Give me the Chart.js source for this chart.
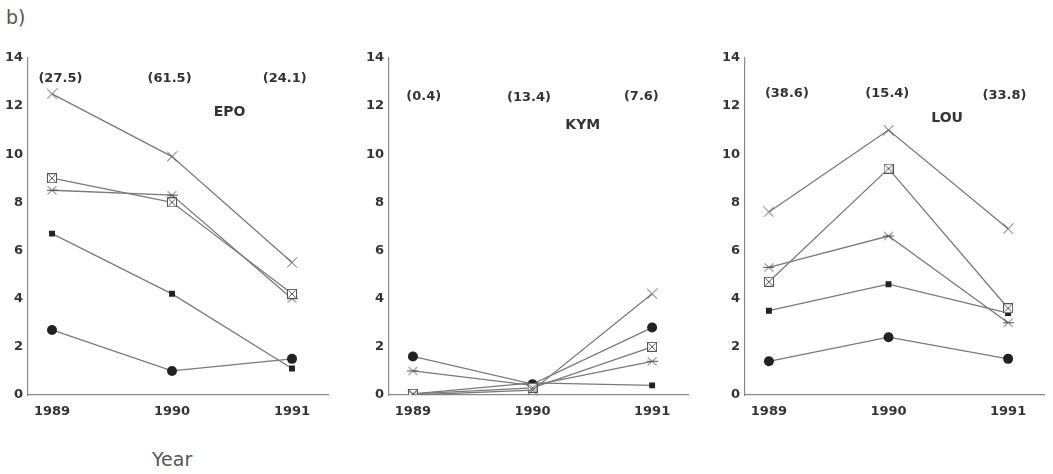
<!DOCTYPE html>
<html lang="en">
<head>
<meta charset="UTF-8">
<title>b) Year panels</title>
<script src="https://cdn.jsdelivr.net/npm/chart.js"></script>
<style>
  body { margin: 0; background: #fff; }
  #page { position: relative; width: 1053px; height: 474px; overflow: hidden; font-family: "DejaVu Sans", sans-serif; color: #555; }
  .panel { position: absolute; top: 45px; height: 375px; }
  #tag { position: absolute; left: 6px; top: 6px; font-size: 19px; }
  #year { position: absolute; left: 152px; top: 448px; font-size: 19px; }
</style>
</head>
<body>
<div id="page">
  <div id="tag">b)</div>
  <div class="panel" style="left:0px;width:340px"><canvas id="epo"></canvas></div>
  <div class="panel" style="left:361px;width:338px"><canvas id="kym"></canvas></div>
  <div class="panel" style="left:717px;width:336px"><canvas id="lou"></canvas></div>
  <div id="year">Year</div>
</div>
<script>
// data
const years = [1989, 1990, 1991];

const epoCircle = [2.7, 1.0, 1.5];
const epoSquare = [6.7, 4.2, 1.1];
const epoStar   = [8.5, 8.3, 4.0];
const epoBoxed  = [9.0, 8.0, 4.2];
const epoCross  = [12.5, 9.9, 5.5];
const epoTotals = ['(27.5)', '(61.5)', '(24.1)'];

const kymCircle = [1.6, 0.45, 2.8];
const kymSquare = [0.05, 0.5, 0.4];
const kymStar   = [1.0, 0.4, 1.4];
const kymBoxed  = [0.05, 0.3, 2.0];
const kymCross  = [0.0, 0.2, 4.2];
const kymTotals = ['(0.4)', '(13.4)', '(7.6)'];

const louCircle = [1.4, 2.4, 1.5];
const louSquare = [3.5, 4.6, 3.4];
const louStar   = [5.3, 6.6, 3.0];
const louBoxed  = [4.7, 9.4, 3.6];
const louCross  = [7.6, 11.0, 6.9];
const louTotals = ['(38.6)', '(15.4)', '(33.8)'];

const yTicks = [0, 2, 4, 6, 8, 10, 12, 14];

// marker images
function marker(size, draw) {
    const c = document.createElement('canvas');
    c.width = size; c.height = size;
    const g = c.getContext('2d');
    g.strokeStyle = '#555';
    g.lineWidth = 1;
    draw(g, size);
    return c;
}
const crossImg = marker(11, (g, s) => {
    g.beginPath();
    g.moveTo(0.5, 0.5); g.lineTo(s - 0.5, s - 0.5);
    g.moveTo(s - 0.5, 0.5); g.lineTo(0.5, s - 0.5);
    g.stroke();
});
const starImg = marker(11, (g, s) => {
    g.beginPath();
    g.moveTo(1, 1.5); g.lineTo(s - 1, s - 1.5);
    g.moveTo(s - 1, 1.5); g.lineTo(1, s - 1.5);
    g.moveTo(0, s / 2); g.lineTo(s, s / 2);
    g.stroke();
});
const boxedImg = marker(10, (g, s) => {
    g.fillStyle = '#fff';
    g.fillRect(0, 0, s, s);
    g.strokeRect(0.5, 0.5, s - 1, s - 1);
    g.beginPath();
    g.moveTo(1.5, 1.5); g.lineTo(s - 1.5, s - 1.5);
    g.moveTo(s - 1.5, 1.5); g.lineTo(1.5, s - 1.5);
    g.stroke();
});

function pts(vals) {
    return years.map((y, i) => ({ x: y, y: vals[i] }));
}

function line(vals, style, radius) {
    return {
        data: pts(vals),
        borderColor: '#7a7a7a',
        borderWidth: 1.3,
        pointStyle: style,
        pointRadius: radius,
        pointBackgroundColor: '#222',
        pointBorderColor: '#222',
        pointBorderWidth: 0,
        tension: 0
    };
}

// text drawn at value positions
const notes = {
    id: 'notes',
    afterDatasetsDraw(chart, args, opts) {
        const ctx = chart.ctx;
        const xs = chart.scales.x, ys = chart.scales.y;
        ctx.save();
        ctx.fillStyle = '#333';
        ctx.textAlign = 'center';
        ctx.textBaseline = 'middle';
        ctx.font = 'bold 13px "DejaVu Sans"';
        opts.totals.forEach((t, i) => {
            ctx.fillText(t, xs.getPixelForValue(opts.totalX[i]), ys.getPixelForValue(opts.totalY[i]));
        });
        ctx.font = 'bold 14px "DejaVu Sans"';
        ctx.fillText(opts.title, xs.getPixelForValue(opts.titleX), ys.getPixelForValue(opts.titleY));
        ctx.restore();
    }
};

function makeChart(id, sets, totals, title, pos) {
    new Chart(document.getElementById(id), {
        type: 'line',
        data: {
            datasets: [
                line(sets[4], crossImg, 5),
                line(sets[3], boxedImg, 5),
                line(sets[2], starImg, 5),
                line(sets[1], 'rect', 4.2),
                line(sets[0], 'circle', 5)
            ]
        },
        options: {
            responsive: true,
            maintainAspectRatio: false,
            animation: false,
            layout: { padding: { top: 12, right: pos.right, left: 0, bottom: 0 } },
            plugins: {
                legend: { display: false },
                tooltip: { enabled: false },
                notes: { totals: totals, totalX: pos.totalX, totalY: pos.totalY, title: title, titleX: pos.titleX, titleY: pos.titleY }
            },
            scales: {
                x: {
                    type: 'linear',
                    min: 1988.8,
                    max: 1991.3,
                    grid: { display: false, drawTicks: false },
                    border: { display: true, color: '#8a8a8a', width: 1.2 },
                    afterFit: s => { s.height = 25; },
                    ticks: {
                        stepSize: 1,
                        includeBounds: false,
                        padding: 9,
                        color: '#333',
                        font: { family: 'DejaVu Sans', size: 13, weight: 'bold' },
                        callback: v => String(v)
                    }
                },
                y: {
                    min: 0,
                    max: 14,
                    grid: { display: false, drawTicks: false },
                    border: { display: true, color: '#8a8a8a', width: 1.2 },
                    afterFit: s => { s.width = 28; },
                    afterBuildTicks: s => { s.ticks = yTicks.map(v => ({ value: v })); },
                    ticks: {
                        padding: 5,
                        color: '#333',
                        font: { family: 'DejaVu Sans', size: 13, weight: 'bold' }
                    }
                }
            }
        },
        plugins: [notes]
    });
}

makeChart('epo', [epoCircle, epoSquare, epoStar, epoBoxed, epoCross], epoTotals, 'EPO', {
    right: 12,
    totalX: [1989.07, 1989.98, 1990.94], totalY: [13.15, 13.15, 13.15],
    titleX: 1990.48, titleY: 11.75
});
makeChart('kym', [kymCircle, kymSquare, kymStar, kymBoxed, kymCross], kymTotals, 'KYM', {
    right: 11,
    totalX: [1989.09, 1989.97, 1990.91], totalY: [12.4, 12.35, 12.4],
    titleX: 1990.42, titleY: 11.2
});
makeChart('lou', [louCircle, louSquare, louStar, louBoxed, louCross], louTotals, 'LOU', {
    right: 9,
    totalX: [1989.15, 1989.99, 1990.97], totalY: [12.5, 12.5, 12.42],
    titleX: 1990.49, titleY: 11.5
});
</script>
</body>
</html>
